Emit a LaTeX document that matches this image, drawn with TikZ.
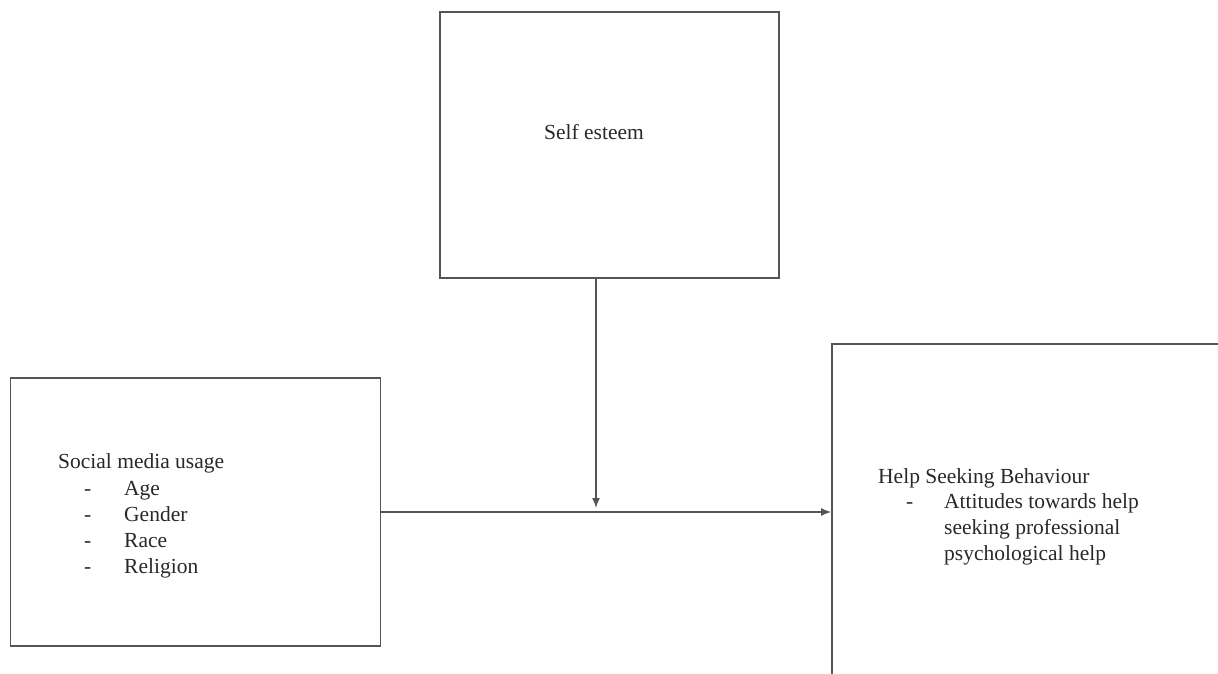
\documentclass[tikz,border=0pt]{standalone}
\usepackage{fontspec}
\setmainfont{Liberation Serif}
\usetikzlibrary{arrows.meta,positioning}
\definecolor{boxgray}{RGB}{85,85,85}
\definecolor{txtgray}{RGB}{40,40,40}

\begin{document}
\begin{tikzpicture}[x=1pt,y=-1pt,
    box/.style={draw=boxgray,line width=1.8pt,inner sep=0pt},
    txt/.style={anchor=base west,inner sep=0pt,text=txtgray,font=\fontsize{21.5}{26}\selectfont},
    arr/.style={draw=boxgray,line width=1.5pt,-{Latex[length=10pt,width=8pt]}}]
  \useasboundingbox (0,0) rectangle (1218,674);
  % boxes
  \node[box,minimum width=339pt,minimum height=266pt] (esteem) at (609.5,145) {};
  \node[box,minimum width=370pt,minimum height=268pt] (social) at (195.5,512) {};
  \node[box,minimum width=420pt,minimum height=360pt] (help) at (1042,524) {};
  % texts
  \node[txt,anchor=base] (esteemtxt) at (594,140) {Self esteem};
  \node[txt] (socialtxt) at (58,468) {Social media usage};
  \foreach \name/\y [count=\i] in {Age/495,Gender/521,Race/547,Religion/573}{
    \node[txt] (dash\i) at (84,\y) {-};
    \node[txt] (item\i) at (124,\y) {\name};
  }
  \node[txt] (helptxt) at (878,483) {Help Seeking Behaviour};
  \node[txt] (helpdash) at (906,508) {-};
  \node[txt] (help1) at (944,508) {Attitudes towards help};
  \node[txt] (help2) at (944,534) {seeking professional};
  \node[txt] (help3) at (944,560) {psychological help};
  % arrows
  \coordinate (meet) at (596,508);
  \draw[arr] (esteem.south -| meet) -- (meet);
  \draw[arr] (social) -- (social -| help.west);
\end{tikzpicture}
\end{document}
